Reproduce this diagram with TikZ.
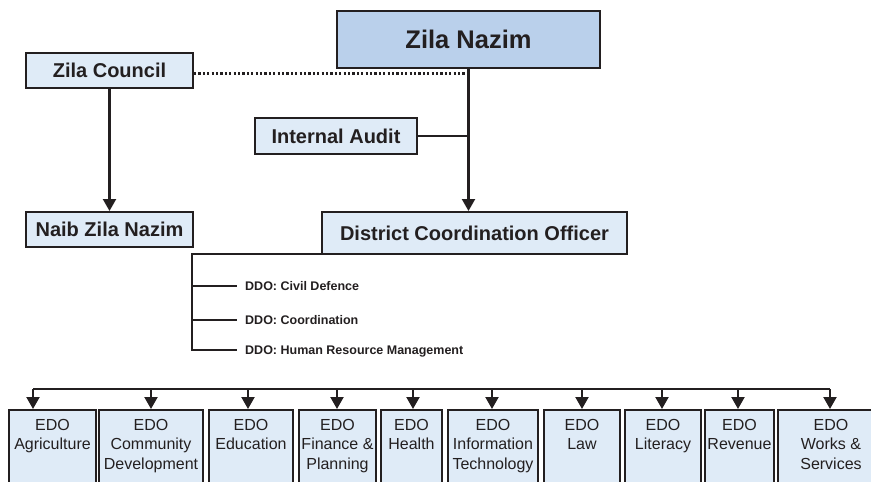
\documentclass[tikz,border=0pt]{standalone}
\usepackage{fontspec}
\setmainfont{Liberation Sans}
\usetikzlibrary{arrows.meta}
\definecolor{boxline}{HTML}{231F20}
\definecolor{lightblue}{HTML}{DFEBF7}
\definecolor{midblue}{HTML}{BAD0EB}
\begin{document}
\begin{tikzpicture}[x=1pt,y=-1pt,
  box/.style={draw=boxline,line width=2pt,fill=lightblue,inner sep=0pt,text=boxline,
    font=\bfseries\fontsize{20}{24}\selectfont},
  topbox/.style={box,fill=midblue,font=\bfseries\fontsize{25.5}{30}\selectfont},
  edobox/.style={draw=boxline,line width=2pt,fill=lightblue,inner sep=0pt,anchor=north west,minimum height=100pt},
  edotext/.style={anchor=north,inner sep=0pt,align=center,text=boxline,
    font=\fontsize{16}{19.5}\selectfont},
  ddo/.style={anchor=west,inner sep=0pt,text height=9pt,text depth=0pt,text=boxline,
    font=\bfseries\fontsize{12.5}{15}\selectfont},
  link/.style={draw=boxline,line width=2.2pt},
  arr/.style={link,-{Triangle[width=13pt,length=12pt]}},
  dots/.style={draw=boxline,line width=2.5pt,dash pattern=on 2.2pt off 2.2pt}]
\clip (0,0) rectangle (871,482);

% upper part
\node[topbox,minimum width=263pt,minimum height=57pt] (nazim) at (468.5,39.5) {Zila Nazim};
\node[box,minimum width=167pt,minimum height=35pt] (council) at (109.5,70.5) {Zila Council};
\node[box,minimum width=162pt,minimum height=36pt] (audit) at (336,136) {Internal Audit};
\node[box,minimum width=167pt,minimum height=35pt] (naib) at (109.5,229.5) {Naib Zila Nazim};
\node[box,minimum width=305pt,minimum height=42pt] (dco) at (474.5,233) {District Coordination Officer};

\draw[dots] ([yshift=-3pt]council.east) -- ([yshift=-3pt]council.east -| nazim.south);
\draw[arr] (nazim.south) -- (nazim.south |- dco.north);
\draw[link] (audit.east) -- (audit.east -| nazim.south);
\draw[arr] (council.south) -- (naib.north);

% DDOs
\coordinate (rail) at (192,253);
\node[ddo] (ddo1) at (245,286) {DDO: Civil Defence};
\node[ddo] (ddo2) at (245,320) {DDO: Coordination};
\node[ddo] (ddo3) at (245,350) {DDO: Human Resource Management};
\draw[link] ([yshift=1pt]dco.south west) -- ([yshift=1pt]dco.south west -| rail) |- ([xshift=-8pt]ddo3.west);
\draw[link] (ddo1.west -| rail) -- ([xshift=-8pt]ddo1.west);
\draw[link] (ddo2.west -| rail) -- ([xshift=-8pt]ddo2.west);

% EDOs
\coordinate (busl) at (33,389);
\coordinate (busr) at (830,389);
\draw[link] (busl) -- (busr);
\foreach \l/\r/\ax/\name/\txt in {
  8/95/33/agri/{EDO\\Agriculture},
  98/202/151/comm/{EDO\\Community\\Development},
  208/292/248/edu/{EDO\\Education},
  298/375/337/fin/{EDO\\Finance \&\\Planning},
  380/441/413/health/{EDO\\Health},
  447/537/492/it/{EDO\\Information\\Technology},
  543/619/582/law/{EDO\\Law},
  624/700/662/lit/{EDO\\Literacy},
  704/773/738/rev/{EDO\\Revenue},
  777/883/830/works/{EDO\\Works \&\\Services}}{
  \pgfmathsetmacro{\w}{\r-\l}
  \node[edobox,minimum width=\w pt] (\name) at (\l,409) {};
  \node[edotext] (\name txt) at ([yshift=-10pt]\name.north) {\txt};
  \draw[arr] (\ax,389) -- (\ax,389 |- \name.north);
}
\end{tikzpicture}
\end{document}
